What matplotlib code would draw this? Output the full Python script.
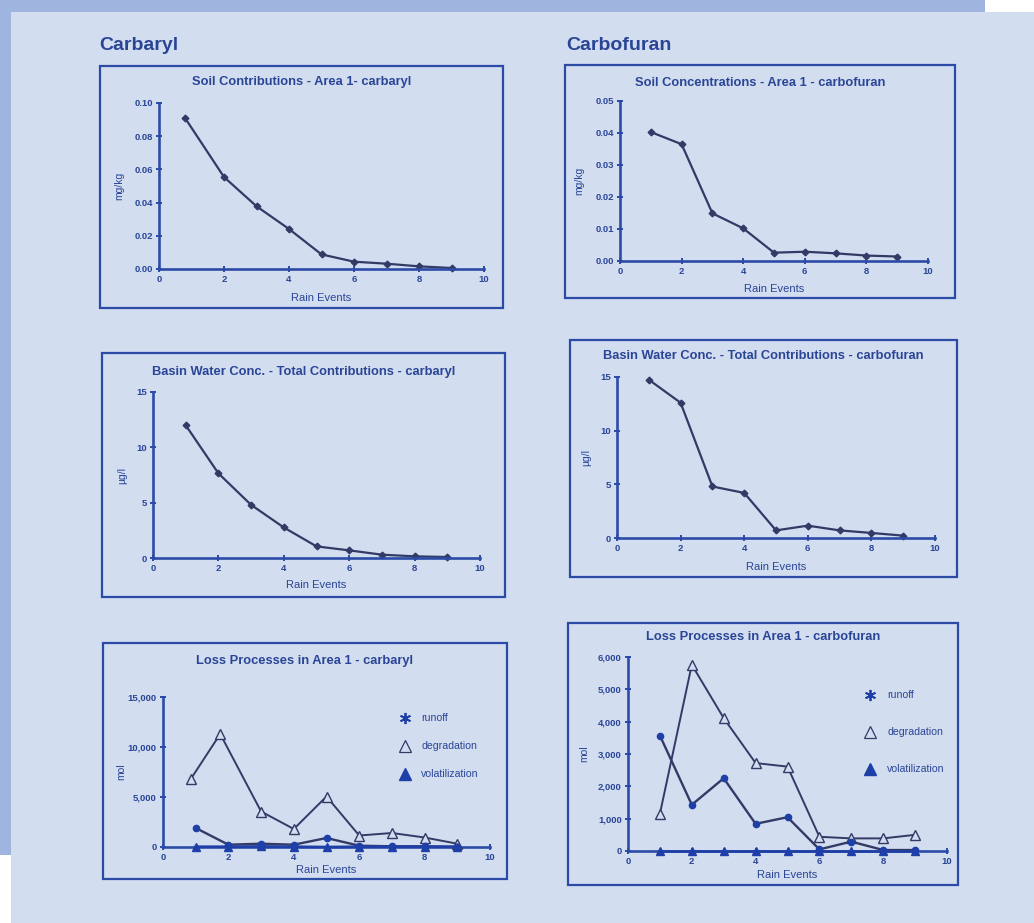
import numpy as np
import matplotlib.pyplot as plt
from matplotlib.patches import Rectangle
from matplotlib.lines import Line2D
from matplotlib.ticker import FuncFormatter

W, H = 1034, 923

# ---- data ----
events = [1, 2, 3, 4, 5, 6, 7, 8, 9]
soil_carbaryl_x = [0.8, 2, 3, 4, 5, 6, 7, 8, 9]
soil_carbaryl = [0.091, 0.0554, 0.0378, 0.0241, 0.0088, 0.0044, 0.0032, 0.0016, 0.0006]
soil_carbofuran = [0.0403, 0.0365, 0.0149, 0.0102, 0.0026, 0.0029, 0.0024, 0.0017, 0.0014]
basin_carbaryl = [12.0, 7.65, 4.8, 2.76, 1.05, 0.69, 0.30, 0.15, 0.09]
basin_carbofuran = [14.75, 12.6, 4.8, 4.2, 0.71, 1.15, 0.71, 0.47, 0.22]

loss_carbaryl_deg_x = [0.85, 1.75, 3, 4, 5, 6, 7, 8, 9]
loss_carbaryl_deg = [6800, 11300, 3550, 1800, 5050, 1150, 1400, 950, 330]
loss_carbaryl_runoff = [1900, 230, 330, 230, 900, 130, 70, 70, 0]
loss_carbaryl_vol = [30, 30, 60, 30, 0, 30, 30, 30, 30]

loss_carbofuran_deg = [1150, 5760, 4110, 2720, 2610, 440, 390, 390, 500]
loss_carbofuran_runoff = [3570, 1430, 2250, 840, 1045, 50, 290, 30, 30]
loss_carbofuran_vol = [0, 0, 0, 0, 0, 0, 0, 0, 0]

legend_labels = ['runoff', 'degradation', 'volatilization']

# ---- colours ----
BG = '#d2ddf0'
BAND = '#9fb5e0'
BLUE = '#2c4ba6'
TXT = '#2a4596'
LINE = '#333a66'
VOL = '#1f3fa8'

plt.rcParams['font.family'] = ['Liberation Sans', 'DejaVu Sans']

fig = plt.figure(figsize=(W / 100, H / 100), dpi=100)
fig.patch.set_facecolor(BG)


def fx(x):
    return x / W


def fy(y):
    return 1 - y / H


# page edges of the scan
fig.add_artist(Rectangle((0, fy(12)), fx(985), 12 / H, transform=fig.transFigure,
                         facecolor=BAND, edgecolor='none'))
fig.add_artist(Rectangle((fx(985), fy(12)), 1, 12 / H, transform=fig.transFigure,
                         facecolor='white', edgecolor='none'))
fig.add_artist(Rectangle((0, fy(855)), fx(11), (855 - 12) / H, transform=fig.transFigure,
                         facecolor=BAND, edgecolor='none'))
fig.add_artist(Rectangle((0, 0), fx(11), fy(855), transform=fig.transFigure,
                         facecolor='white', edgecolor='none'))

fig.text(fx(99), fy(46), 'Carbaryl', fontsize=14, fontweight='bold', color=TXT, va='center')
fig.text(fx(566), fy(46), 'Carbofuran', fontsize=14, fontweight='bold', color=TXT, va='center')


def panel(box, axpx, title, title_y, xlabel_y, ylabel, ylabel_x, ylim, yticks, fmt):
    bx0, by0, bx1, by1 = box
    fig.add_artist(Rectangle((fx(bx0), fy(by1)), (bx1 - bx0) / W, (by1 - by0) / H,
                             transform=fig.transFigure, facecolor='none',
                             edgecolor=BLUE, lw=1.6))
    x0, ytop, x1, ybot = axpx
    ax = fig.add_axes([fx(x0), fy(ybot), (x1 - x0) / W, (ybot - ytop) / H])
    ax.patch.set_alpha(0)
    ax.set_xlim(0, 10)
    ax.set_ylim(*ylim)
    ax.set_xticks([0, 2, 4, 6, 8, 10])
    ax.set_yticks(yticks)
    ax.yaxis.set_major_formatter(FuncFormatter(fmt))
    for s in ['top', 'right']:
        ax.spines[s].set_visible(False)
    for s in ['left', 'bottom']:
        ax.spines[s].set_color(BLUE)
        ax.spines[s].set_linewidth(1.9)
    ax.tick_params(direction='inout', length=5, width=1.4, color=BLUE,
                   labelsize=6.8, labelcolor=TXT, pad=2)
    for lab in ax.get_xticklabels() + ax.get_yticklabels():
        lab.set_fontweight('bold')
    fig.text(fx((bx0 + bx1) / 2), fy(title_y), title, fontsize=9.3, fontweight='bold',
             color=TXT, ha='center', va='center')
    fig.text(fx((x0 + x1) / 2), fy(xlabel_y), 'Rain Events', fontsize=8,
             color=TXT, ha='center', va='center')
    fig.text(fx(ylabel_x), fy((ytop + ybot) / 2), ylabel, fontsize=7.4, color=TXT,
             ha='center', va='center', rotation=90)
    return ax


def simple_line(ax, x, y):
    ax.plot(x, y, color=LINE, lw=1.6, marker='D', ms=3.4, mfc=LINE, mec=LINE,
            clip_on=False)


dec2 = lambda v, p: '%.2f' % v
intf = lambda v, p: '%d' % v
comma = lambda v, p: '{:,.0f}'.format(v)

# Soil carbaryl
ax1 = panel((100, 66, 503, 308), (159, 103, 484, 269),
            'Soil Contributions - Area 1- carbaryl', 82, 298, 'mg/kg', 119,
            (0, 0.10), np.arange(0, 0.101, 0.02), dec2)
simple_line(ax1, soil_carbaryl_x, soil_carbaryl)

# Soil carbofuran
ax2 = panel((565, 65, 955, 298), (620, 101, 928, 261),
            'Soil Concentrations - Area 1 - carbofuran', 83, 289, 'mg/kg', 579,
            (0, 0.05), np.arange(0, 0.051, 0.01), dec2)
simple_line(ax2, events, soil_carbofuran)

# Basin carbaryl
ax3 = panel((102, 353, 505, 597), (153, 392, 480, 558),
            'Basin Water Conc. - Total Contributions - carbaryl', 372, 585, 'µg/l', 122,
            (0, 15), [0, 5, 10, 15], intf)
simple_line(ax3, events, basin_carbaryl)

# Basin carbofuran
ax4 = panel((570, 340, 957, 577), (617, 377, 935, 538),
            'Basin Water Conc. - Total Contributions - carbofuran', 356, 567, 'µg/l', 586,
            (0, 15), [0, 5, 10, 15], intf)
simple_line(ax4, events, basin_carbofuran)


def loss_lines(ax, deg_x, deg, runoff, vol):
    ax.plot(deg_x, deg, color=LINE, lw=1.4, marker='^', ms=7.5, mfc=BG, mec=LINE,
            mew=1.0, clip_on=False, zorder=3)
    ax.plot(events, runoff, color=LINE, lw=1.7, marker='o', ms=4.5, mfc=VOL, mec=VOL,
            clip_on=False, zorder=4)
    ax.plot(events, vol, color=VOL, lw=1.9, marker='^', ms=5.5, mfc=VOL, mec=VOL,
            clip_on=False, zorder=5)


def loss_legend(ax, mx, tx, ys):
    styles = [dict(marker=(6, 2, 0), ms=8, mec=VOL, mfc=VOL, mew=1.3),
              dict(marker='^', ms=9, mec=LINE, mfc='none', mew=0.9),
              dict(marker='^', ms=8, mec=VOL, mfc=VOL)]
    for st, lab, y in zip(styles, legend_labels, ys):
        fig.add_artist(Line2D([fx(mx)], [fy(y)], transform=fig.transFigure,
                              linestyle='none', **st))
        fig.text(fx(tx), fy(y), lab, fontsize=7.6, color=TXT, va='center')


# Loss carbaryl
ax5 = panel((103, 643, 507, 879), (163, 697, 490, 847),
            'Loss Processes in Area 1 - carbaryl', 661, 870, 'mol', 121,
            (0, 15000), [0, 5000, 10000, 15000], comma)
loss_lines(ax5, loss_carbaryl_deg_x, loss_carbaryl_deg, loss_carbaryl_runoff, loss_carbaryl_vol)
loss_legend(ax5, 405, 421, [718, 746, 774])

# Loss carbofuran
ax6 = panel((568, 623, 958, 885), (628, 657, 947, 851),
            'Loss Processes in Area 1 - carbofuran', 637, 875, 'mol', 584,
            (0, 6000), np.arange(0, 6001, 1000), comma)
loss_lines(ax6, events, loss_carbofuran_deg, loss_carbofuran_runoff, loss_carbofuran_vol)
loss_legend(ax6, 870, 887, [695, 732, 769])

fig.savefig('out.png', dpi=100, facecolor=fig.get_facecolor())
